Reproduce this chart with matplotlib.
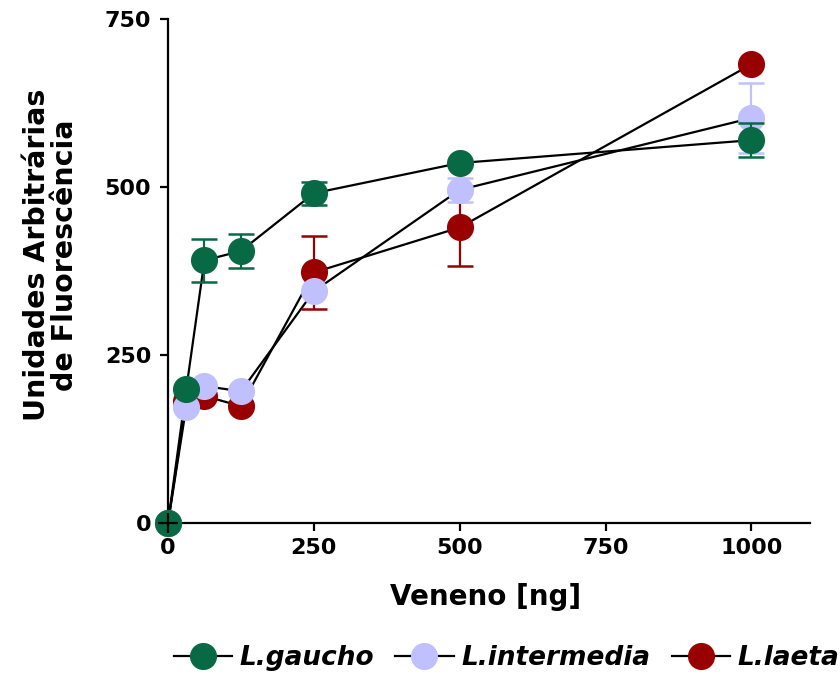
import matplotlib
matplotlib.use("Agg")
import matplotlib.pyplot as plt
from matplotlib.lines import Line2D

plt.rcParams['font.family'] = ['DejaVu Sans']

dose = [0, 31.25, 62.5, 125, 250, 500, 1000]

gaucho = [0, 199, 391, 405, 491, 536, 570]
gaucho_err = [0, 0, 32, 26, 17, 0, 25]
intermedia = [0, 173, 204, 196, 345, 496, 603]
intermedia_err = [0, 0, 0, 0, 0, 18, 52]
laeta = [0, 182, 189, 174, 373, 440, 683]
laeta_err = [0, 0, 0, 0, 55, 57, 0]

names = ["L.gaucho", "L.intermedia", "L.laeta"]
colors = ["#076a45", "#c0c0ff", "#990000"]

xticks = [0, 250, 500, 750, 1000]
yticks = [0, 250, 500, 750]

fig = plt.figure(figsize=(8.4, 6.77), dpi=100)
ax = fig.add_axes([0.2, 0.2275, 0.764, 0.744])

data = [(gaucho, gaucho_err), (intermedia, intermedia_err), (laeta, laeta_err)]
zs = [5, 4, 3]
for (vals, err), col, z in zip(data, colors, zs):
    ex = [d for d, e in zip(dose, err) if e > 0]
    ey = [v for v, e in zip(vals, err) if e > 0]
    ee = [e for e in err if e > 0]
    ax.errorbar(ex, ey, yerr=ee, fmt='none', ecolor=col, elinewidth=1.6,
                capsize=9.5, capthick=1.8, zorder=z, clip_on=False)
    ax.plot(dose, vals, color='black', lw=1.6, zorder=2, clip_on=False)
    ax.plot(dose, vals, linestyle='none', marker='o', markersize=18.5,
            markerfacecolor=col, markeredgecolor=col, zorder=z + 0.5, clip_on=False)

# axis crossing drawn over the origin marker
ax.plot([0], [0], marker='+', color='black', markersize=14, mew=1.6, zorder=10, clip_on=False)

ax.set_xlim(0, 1100)
ax.set_ylim(0, 750)
ax.set_xticks(xticks)
ax.set_yticks(yticks)
for s in ['top', 'right']:
    ax.spines[s].set_visible(False)
for s in ['left', 'bottom']:
    ax.spines[s].set_linewidth(1.6)
ax.tick_params(direction='out', length=6, width=1.6, labelsize=16)
ax.tick_params(axis='y', pad=6)
ax.tick_params(axis='x', pad=5)
for lab in ax.get_xticklabels() + ax.get_yticklabels():
    lab.set_fontweight('bold')

ax.set_xlabel("Veneno [ng]", fontsize=20, fontweight='bold')
ax.xaxis.set_label_coords(0.495, -0.12)
ax.set_ylabel("Unidades Arbitrárias\nde Fluorescência", fontsize=20.5, fontweight='bold',
              linespacing=1.0)
ax.yaxis.set_label_coords(-0.138, 0.532)

leg_handles = [Line2D([0], [0], color='black', lw=1.6, marker='o', markersize=18.5,
                      markerfacecolor=c, markeredgecolor=c) for c in colors]
fig.legend(leg_handles, names, loc='center', bbox_to_anchor=(0.603, 0.028), ncol=3,
           frameon=False, prop={'size': 19, 'weight': 'bold', 'style': 'italic'},
           handlelength=2.2, handletextpad=0.3, columnspacing=0.8, borderpad=0)

fig.savefig("out.png", dpi=100)
